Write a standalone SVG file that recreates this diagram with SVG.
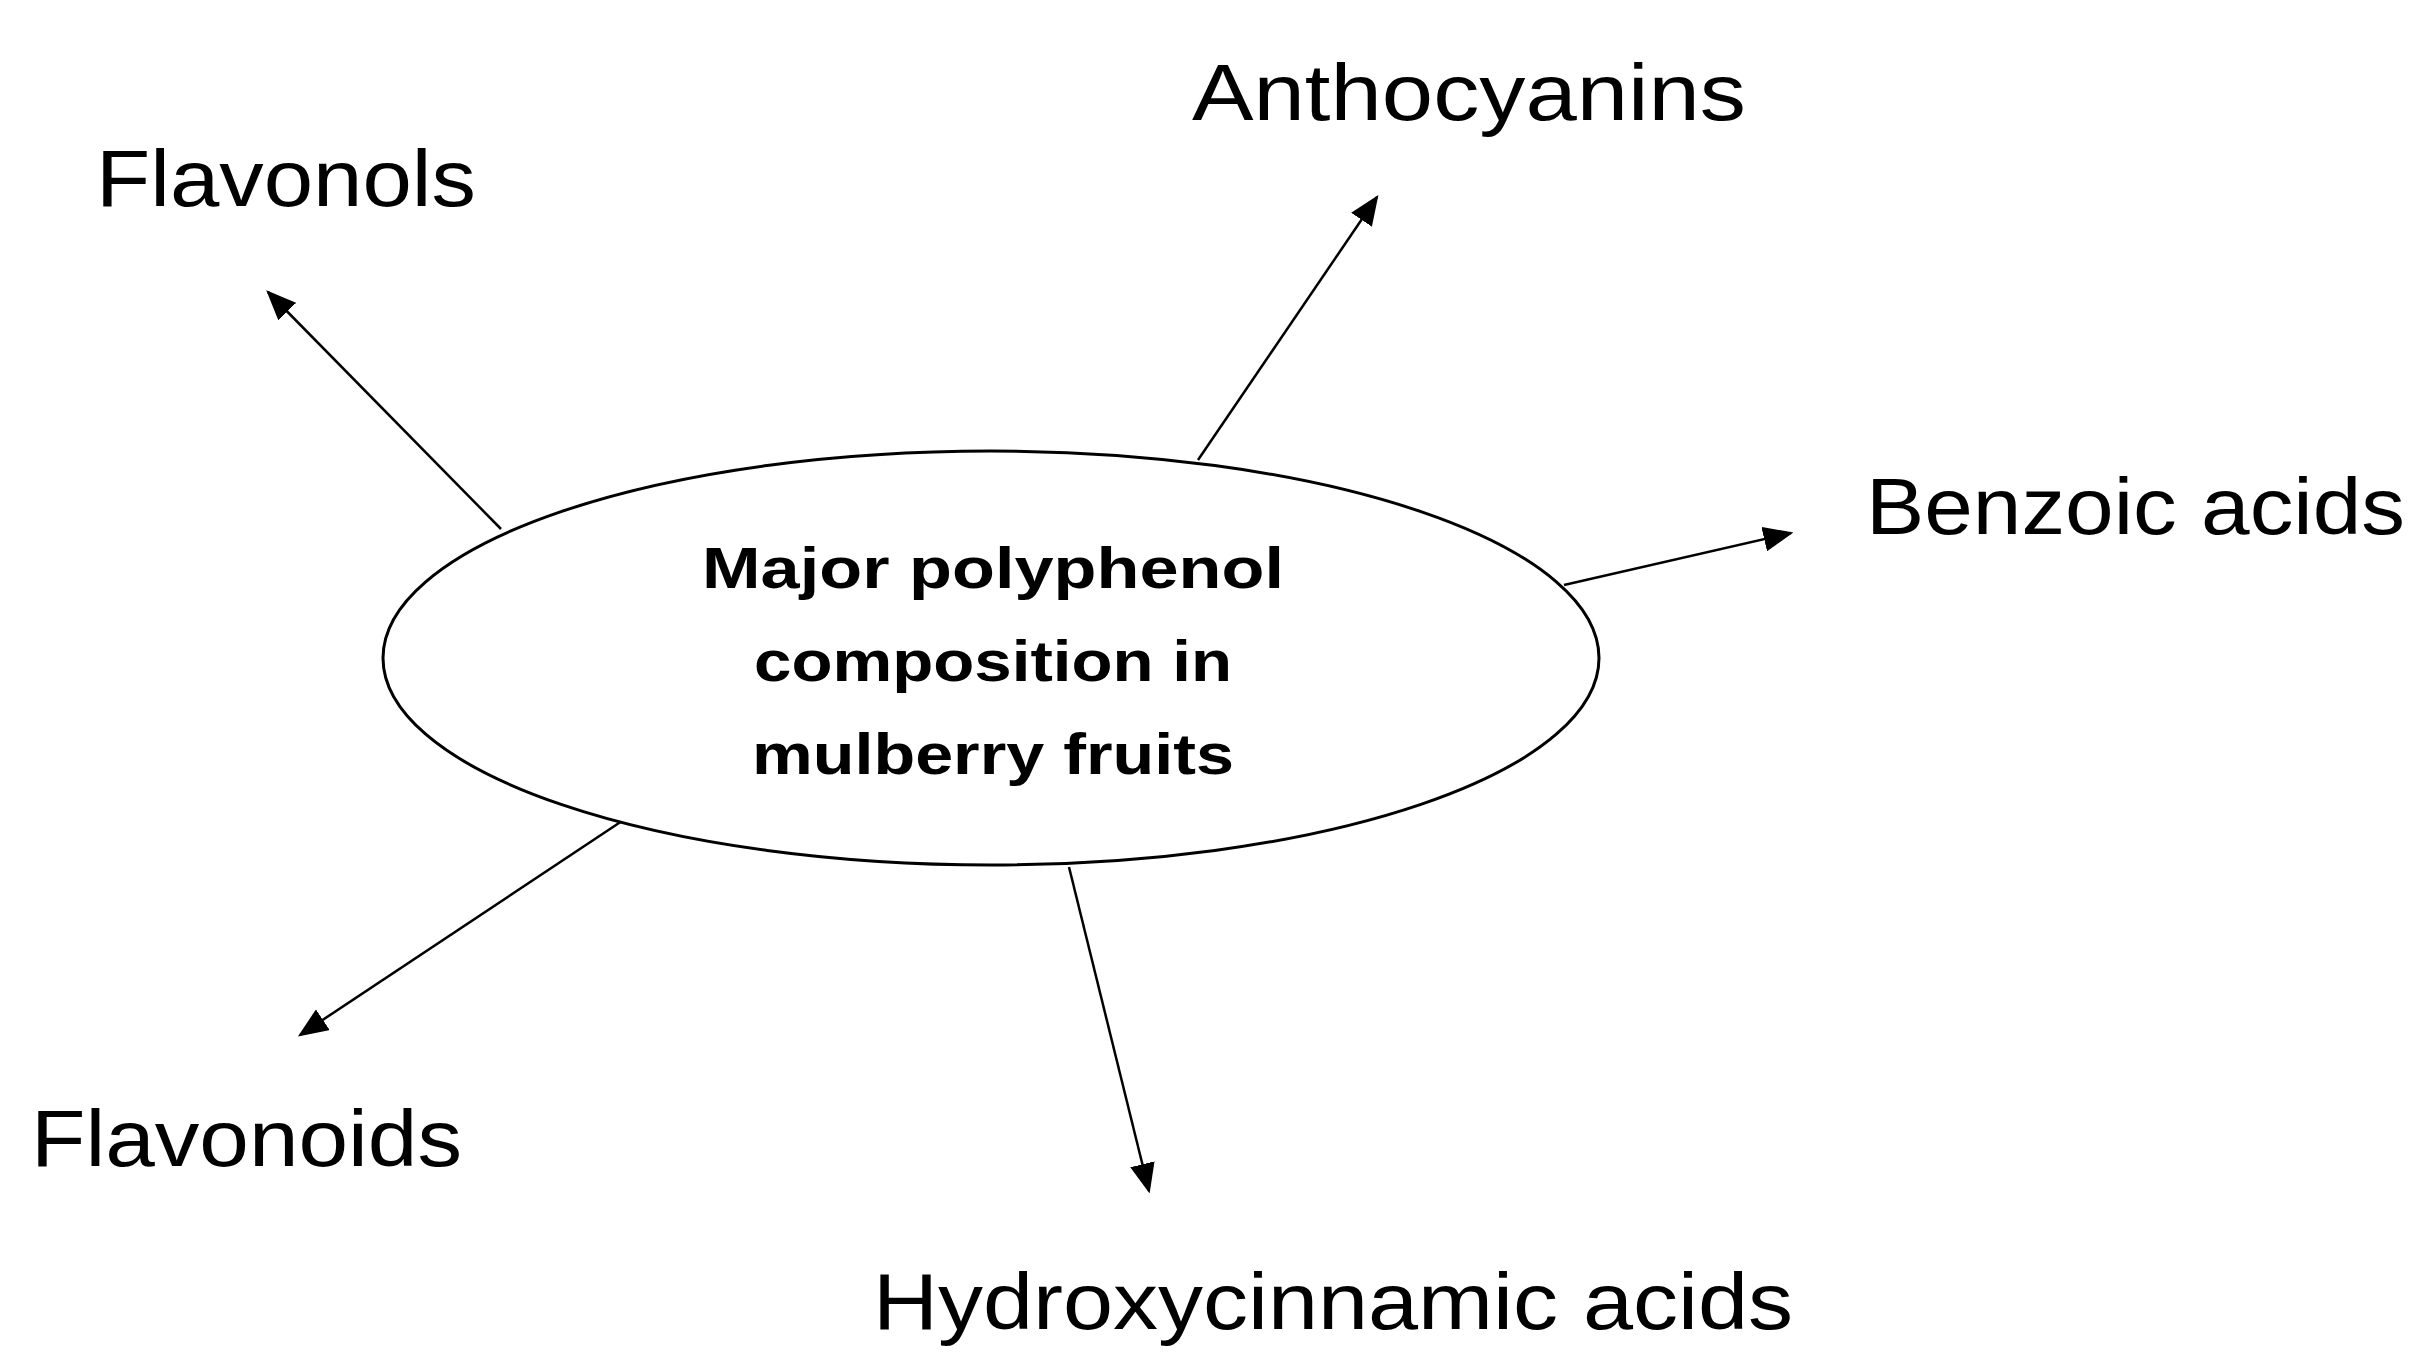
<svg xmlns="http://www.w3.org/2000/svg" width="2416" height="1368" viewBox="0 0 2416 1368">
<style>
.lbl{font-family:"Liberation Sans",Arial,sans-serif;font-size:80px;fill:#000}
.ctr{font-family:"Liberation Sans",Arial,sans-serif;font-size:58px;font-weight:bold;fill:#000;text-anchor:middle}
.conn line{stroke:#000;stroke-width:2.5;marker-end:url(#ah)}
</style>
<defs>
<marker id="ah" markerWidth="12" markerHeight="10" refX="11" refY="5" orient="auto" markerUnits="strokeWidth">
<path d="M0,0 L12,5 L0,10 z" fill="#000"/>
</marker>
</defs>
<rect width="2416" height="1368" fill="#fff"/>
<g id="connectors" class="conn">
<line x1="501" y1="529" x2="268" y2="292"/>
<line x1="1198" y1="460" x2="1377" y2="197"/>
<line x1="1564" y1="585" x2="1791" y2="533"/>
<line x1="622" y1="821" x2="300" y2="1035"/>
<line x1="1069" y1="867" x2="1149" y2="1191"/>
</g>
<g id="center">
<ellipse cx="991" cy="658" rx="608" ry="207" fill="#fff" stroke="#000" stroke-width="3"/>
<text class="ctr" x="993" y="588" textLength="582" lengthAdjust="spacingAndGlyphs">Major polyphenol</text>
<text class="ctr" x="993" y="681" textLength="478" lengthAdjust="spacingAndGlyphs">composition in</text>
<text class="ctr" x="993" y="774" textLength="482" lengthAdjust="spacingAndGlyphs">mulberry fruits</text>
</g>
<g id="anthocyanins"><text class="lbl" x="1192" y="120" textLength="554" lengthAdjust="spacingAndGlyphs">Anthocyanins</text></g>
<g id="flavonols"><text class="lbl" x="96" y="206" textLength="380" lengthAdjust="spacingAndGlyphs">Flavonols</text></g>
<g id="benzoic"><text class="lbl" x="1866" y="534" textLength="539" lengthAdjust="spacingAndGlyphs">Benzoic acids</text></g>
<g id="flavonoids"><text class="lbl" x="31" y="1166" textLength="431" lengthAdjust="spacingAndGlyphs">Flavonoids</text></g>
<g id="hydroxycinnamic"><text class="lbl" x="873" y="1329" textLength="920" lengthAdjust="spacingAndGlyphs">Hydroxycinnamic acids</text></g>
</svg>
